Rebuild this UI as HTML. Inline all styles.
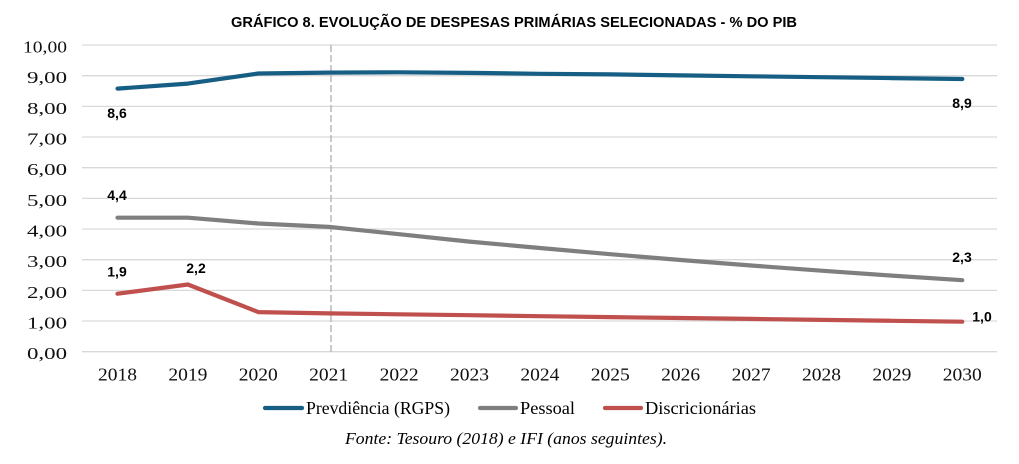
<!DOCTYPE html>
<html>
<head>
<meta charset="utf-8">
<style>
  html, body { margin: 0; padding: 0; background: #ffffff; }
  body { width: 1019px; height: 464px; overflow: hidden; }
  svg { display: block; }
</style>
</head>
<body>
<svg width="1019" height="464" viewBox="0 0 1019 464" xmlns="http://www.w3.org/2000/svg">
  <rect x="0" y="0" width="1019" height="464" fill="#ffffff"/>

  <!-- Title -->
  <text x="514" y="27" text-anchor="middle" font-family="'Liberation Sans', sans-serif" font-weight="bold" font-size="14.5" fill="#000" textLength="566" lengthAdjust="spacingAndGlyphs">GRÁFICO 8. EVOLUÇÃO DE DESPESAS PRIMÁRIAS SELECIONADAS - % DO PIB</text>

  <!-- Gridlines -->
  <g stroke="#d9d9d9" stroke-width="1.3">
    <line x1="82" y1="45" x2="997" y2="45"/>
    <line x1="82" y1="75.7" x2="997" y2="75.7"/>
    <line x1="82" y1="106.4" x2="997" y2="106.4"/>
    <line x1="82" y1="137" x2="997" y2="137"/>
    <line x1="82" y1="167.7" x2="997" y2="167.7"/>
    <line x1="82" y1="198.4" x2="997" y2="198.4"/>
    <line x1="82" y1="229" x2="997" y2="229"/>
    <line x1="82" y1="259.7" x2="997" y2="259.7"/>
    <line x1="82" y1="290.4" x2="997" y2="290.4"/>
    <line x1="82" y1="321" x2="997" y2="321"/>
    <line x1="82" y1="351.7" x2="997" y2="351.7"/>
  </g>

  <!-- Dashed vertical line at 2021 -->
  <line x1="331" y1="45" x2="331" y2="352" stroke="#b8b8b8" stroke-width="1.5" stroke-dasharray="7,3"/>

  <!-- Y axis labels -->
  <g font-family="'Liberation Serif', serif" font-size="17" fill="#111" text-anchor="end">
    <text x="67" y="52.5" textLength="44" lengthAdjust="spacingAndGlyphs">10,00</text>
    <text x="67" y="83.2" textLength="40" lengthAdjust="spacingAndGlyphs">9,00</text>
    <text x="67" y="113.9" textLength="40" lengthAdjust="spacingAndGlyphs">8,00</text>
    <text x="67" y="144.5" textLength="40" lengthAdjust="spacingAndGlyphs">7,00</text>
    <text x="67" y="175.2" textLength="40" lengthAdjust="spacingAndGlyphs">6,00</text>
    <text x="67" y="205.9" textLength="40" lengthAdjust="spacingAndGlyphs">5,00</text>
    <text x="67" y="236.5" textLength="40" lengthAdjust="spacingAndGlyphs">4,00</text>
    <text x="67" y="267.2" textLength="40" lengthAdjust="spacingAndGlyphs">3,00</text>
    <text x="67" y="297.9" textLength="40" lengthAdjust="spacingAndGlyphs">2,00</text>
    <text x="67" y="328.5" textLength="40" lengthAdjust="spacingAndGlyphs">1,00</text>
    <text x="67" y="359.2" textLength="40" lengthAdjust="spacingAndGlyphs">0,00</text>
  </g>

  <!-- X axis labels -->
  <g font-family="'Liberation Serif', serif" font-size="18" fill="#111" text-anchor="middle">
    <text x="117.5" y="380.5" textLength="39" lengthAdjust="spacingAndGlyphs">2018</text>
    <text x="187.9" y="380.5" textLength="39" lengthAdjust="spacingAndGlyphs">2019</text>
    <text x="258.3" y="380.5" textLength="39" lengthAdjust="spacingAndGlyphs">2020</text>
    <text x="328.7" y="380.5" textLength="39" lengthAdjust="spacingAndGlyphs">2021</text>
    <text x="399.1" y="380.5" textLength="39" lengthAdjust="spacingAndGlyphs">2022</text>
    <text x="469.5" y="380.5" textLength="39" lengthAdjust="spacingAndGlyphs">2023</text>
    <text x="539.9" y="380.5" textLength="39" lengthAdjust="spacingAndGlyphs">2024</text>
    <text x="610.3" y="380.5" textLength="39" lengthAdjust="spacingAndGlyphs">2025</text>
    <text x="680.7" y="380.5" textLength="39" lengthAdjust="spacingAndGlyphs">2026</text>
    <text x="751.1" y="380.5" textLength="39" lengthAdjust="spacingAndGlyphs">2027</text>
    <text x="821.5" y="380.5" textLength="39" lengthAdjust="spacingAndGlyphs">2028</text>
    <text x="891.9" y="380.5" textLength="39" lengthAdjust="spacingAndGlyphs">2029</text>
    <text x="962.3" y="380.5" textLength="39" lengthAdjust="spacingAndGlyphs">2030</text>
  </g>

  <!-- Series -->
  <g fill="none" stroke-width="4.2" stroke-linecap="round" stroke-linejoin="round">
    <polyline stroke="#175e84" points="117.5,88.6 187.9,83.6 258.3,73.5 328.7,72.6 399.1,72.3 469.5,72.9 539.9,73.8 610.3,74.4 680.7,75.4 751.1,76.3 821.5,77.2 891.9,78.1 962.3,79.0"/>
    <polyline stroke="#7f7f7f" points="117.5,217.7 187.9,217.7 258.3,223.5 328.7,226.9 399.1,234.2 469.5,241.6 539.9,248.0 610.3,254.2 680.7,260.0 751.1,265.5 821.5,270.7 891.9,275.6 962.3,280.2"/>
    <polyline stroke="#c0504d" points="117.5,293.7 187.9,284.5 258.3,312.1 328.7,313.4 399.1,314.3 469.5,315.2 539.9,316.2 610.3,317.1 680.7,318.0 751.1,318.9 821.5,319.9 891.9,320.8 962.3,321.7"/>
  </g>

  <!-- Data labels -->
  <g font-family="'Liberation Sans', sans-serif" font-weight="bold" font-size="14" fill="#000" text-anchor="middle">
    <text x="117" y="118">8,6</text>
    <text x="117" y="200">4,4</text>
    <text x="117" y="276.5">1,9</text>
    <text x="196" y="273">2,2</text>
    <text x="962" y="108">8,9</text>
    <text x="962" y="262">2,3</text>
    <text x="982" y="321.5">1,0</text>
  </g>

  <!-- Legend -->
  <g stroke-width="4.2" stroke-linecap="round">
    <line x1="265" y1="408" x2="302" y2="408" stroke="#175e84"/>
    <line x1="480" y1="408" x2="516" y2="408" stroke="#7f7f7f"/>
    <line x1="605" y1="408" x2="641" y2="408" stroke="#c0504d"/>
  </g>
  <g font-family="'Liberation Serif', serif" font-size="18" fill="#000">
    <text x="306" y="414" textLength="144" lengthAdjust="spacingAndGlyphs">Prevdiência (RGPS)</text>
    <text x="520" y="414" textLength="55" lengthAdjust="spacingAndGlyphs">Pessoal</text>
    <text x="645" y="414" textLength="111" lengthAdjust="spacingAndGlyphs">Discricionárias</text>
  </g>

  <!-- Source -->
  <text x="345" y="444" font-family="'Liberation Serif', serif" font-style="italic" font-size="16.5" fill="#000" textLength="322" lengthAdjust="spacingAndGlyphs">Fonte: Tesouro (2018) e IFI (anos seguintes).</text>
</svg>
</body>
</html>
